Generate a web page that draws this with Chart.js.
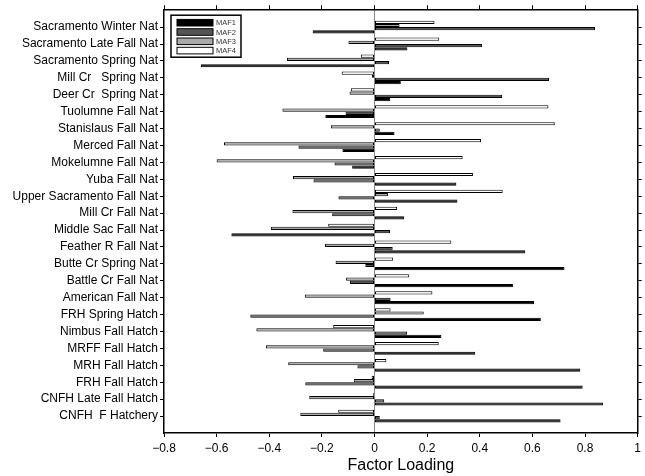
<!DOCTYPE html>
<html>
<head>
<meta charset="utf-8">
<title>Factor Loading</title>
<script src="https://cdn.jsdelivr.net/npm/chart.js@4"></script>
<style>
  html, body { margin: 0; padding: 0; background: #fff; }
  canvas { display: block; }
</style>
</head>
<body>
<canvas id="loadChart" width="645" height="476"></canvas>
<script>
// Populations, top to bottom
const populations = [
  "Sacramento Winter Nat",
  "Sacramento Late Fall Nat",
  "Sacramento Spring Nat",
  "Mill Cr   Spring Nat",
  "Deer Cr  Spring Nat",
  "Tuolumne Fall Nat",
  "Stanislaus Fall Nat",
  "Merced Fall Nat",
  "Mokelumne Fall Nat",
  "Yuba Fall Nat",
  "Upper Sacramento Fall Nat",
  "Mill Cr Fall Nat",
  "Middle Sac Fall Nat",
  "Feather R Fall Nat",
  "Butte Cr Spring Nat",
  "Battle Cr Fall Nat",
  "American Fall Nat",
  "FRH Spring Hatch",
  "Nimbus Fall Hatch",
  "MRFF Fall Hatch",
  "MRH Fall Hatch",
  "FRH Fall Hatch",
  "CNFH Late Fall Hatch",
  "CNFH  F Hatchery"
];

// Factor loadings
const maf1 = [-0.235, 0.125, -0.66, 0.10, 0.06, -0.187, 0.076, -0.122, -0.085, 0.311, 0.315, 0.113,
              -0.544, 0.573, 0.722, 0.526, 0.606, 0.632, 0.254, 0.383, 0.782, 0.791, 0.869, 0.707];
const maf2 = [0.838, 0.409, 0.055, 0.663, 0.485, -0.11, 0.02, -0.289, -0.152, -0.232, -0.137, -0.161,
              0.059, 0.069, -0.035, -0.093, 0.061, -0.472, 0.124, -0.195, -0.065, -0.263, 0.037, 0.02];
const maf3 = [0.095, -0.099, -0.333, -0.01, -0.095, -0.35, -0.166, -0.572, -0.60, -0.31, 0.051, -0.312,
              -0.394, -0.188, -0.148, -0.108, -0.265, 0.187, -0.449, -0.413, -0.328, -0.079, -0.248, -0.282];
const maf4 = [0.228, 0.246, -0.052, -0.125, -0.09, 0.661, 0.685, 0.405, 0.335, 0.374, 0.487, 0.086,
              -0.176, 0.292, 0.071, 0.132, 0.22, 0.061, -0.157, 0.244, 0.045, -0.011, -0.005, -0.138];

const seriesNames = ["MAF1", "MAF2", "MAF3", "MAF4"];
const seriesFills = ["#000000", "#555555", "#aaaaaa", "#ffffff"];

const xTicks = [-0.8, -0.6, -0.4, -0.2, 0, 0.2, 0.4, 0.6, 0.8, 1];

const FONT = "'Liberation Sans', Arial, Helvetica, sans-serif";

function toPoints(values) {
  return values.map((v, i) => ({ x: v, y: i }));
}

function fmtTick(v) {
  const r = Math.round(v * 10) / 10;
  if (r === 0) return "0";
  if (r === 1) return "1";
  return (r < 0 ? "\u2212" : "") + Math.abs(r).toFixed(1);
}

function categoryTicks(axis) {
  axis.ticks = populations.map((_, i) => ({ value: i }));
}

function valueTicks(axis) {
  axis.ticks = xTicks.map((v) => ({ value: v }));
}

// Datasets listed top-to-bottom within each group (MAF4 first)
const allSeries = [maf1, maf2, maf3, maf4];
const datasets = [3, 2, 1, 0].map((k) => ({
  label: seriesNames[k],
  data: toPoints(allSeries[k]),
  backgroundColor: seriesFills[k],
  borderColor: "#000",
  borderWidth: 1,
  borderSkipped: false,
  xAxisID: "x",
  yAxisID: "y"
}));

/* ---------- boxed legend inside the plot ---------- */
const insideLegend = {
  id: "insideLegend",
  afterDraw(chart) {
    const ctx = chart.ctx;
    const left = chart.chartArea.left + 7;
    const top = chart.chartArea.top + 5;
    ctx.save();
    ctx.fillStyle = "#fff";
    ctx.fillRect(left, top, 70, 42);
    ctx.strokeStyle = "#000";
    ctx.lineWidth = 1.5;
    ctx.strokeRect(left, top, 70, 42);
    ctx.font = "7.5px " + FONT;
    ctx.textBaseline = "middle";
    seriesNames.forEach((name, i) => {
      const cy = top + 7.5 + i * 9.3;
      ctx.fillStyle = seriesFills[i];
      ctx.fillRect(left + 6, cy - 3.3, 36, 6.6);
      ctx.lineWidth = 1;
      ctx.strokeStyle = "#000";
      ctx.strokeRect(left + 6, cy - 3.3, 36, 6.6);
      ctx.fillStyle = "#333";
      ctx.fillText(name, left + 45, cy + 0.5);
    });
    ctx.restore();
  }
};

const axisBorder = { display: true, color: "#000", width: 1.5 };

new Chart(document.getElementById("loadChart").getContext("2d"), {
  type: "bar",
  data: { datasets },
  options: {
    indexAxis: "y",
    responsive: false,
    devicePixelRatio: 1,
    animation: false,
    layout: { padding: { top: 0, right: 0, bottom: 0, left: 0 } },
    datasets: {
      bar: { categoryPercentage: 0.76, barPercentage: 1.0 }
    },
    plugins: {
      legend: { display: false },
      tooltip: { enabled: false }
    },
    scales: {
      x: {
        type: "linear",
        position: "bottom",
        min: -0.8,
        max: 1,
        offset: false,
        afterBuildTicks: valueTicks,
        afterFit: (s) => { s.height = 43; },
        border: axisBorder,
        grid: {
          offset: false,
          drawOnChartArea: true,
          drawTicks: true,
          tickLength: 4,
          color: (c) => (c.tick && c.tick.value === 0 ? "#888" : "rgba(0,0,0,0)"),
          tickColor: "#000",
          lineWidth: 1
        },
        ticks: {
          color: "#000",
          padding: 4,
          font: { family: FONT, size: 12 },
          callback: (v) => fmtTick(v)
        },
        title: {
          display: true,
          text: "Factor Loading",
          color: "#000",
          font: { family: FONT, size: 16 },
          padding: { top: 0, bottom: 1 }
        }
      },
      x2: {
        type: "linear",
        position: "top",
        min: -0.8,
        max: 1,
        offset: false,
        afterBuildTicks: valueTicks,
        afterFit: (s) => { s.height = 8; },
        border: axisBorder,
        grid: { offset: false, drawOnChartArea: false, drawTicks: true, tickLength: 5, tickColor: "#000" },
        ticks: { callback: () => "" }
      },
      y: {
        type: "linear",
        position: "left",
        reverse: true,
        min: -1,
        max: 24,
        offset: false,
        afterBuildTicks: categoryTicks,
        afterFit: (s) => { s.width = 164; },
        border: axisBorder,
        grid: { offset: false, drawOnChartArea: false, drawTicks: true, tickLength: 4, tickColor: "#000" },
        ticks: {
          color: "#000",
          padding: 2,
          autoSkip: false,
          font: { family: FONT, size: 12 },
          callback: (v) => populations[v] ?? ""
        }
      },
      y2: {
        type: "linear",
        position: "right",
        reverse: true,
        min: -1,
        max: 24,
        offset: false,
        afterBuildTicks: categoryTicks,
        afterFit: (s) => { s.width = 5; },
        border: axisBorder,
        grid: { offset: false, drawOnChartArea: false, drawTicks: true, tickLength: 4, tickColor: "#000" },
        ticks: { callback: () => "" }
      }
    }
  },
  plugins: [insideLegend]
});
</script>
</body>
</html>
